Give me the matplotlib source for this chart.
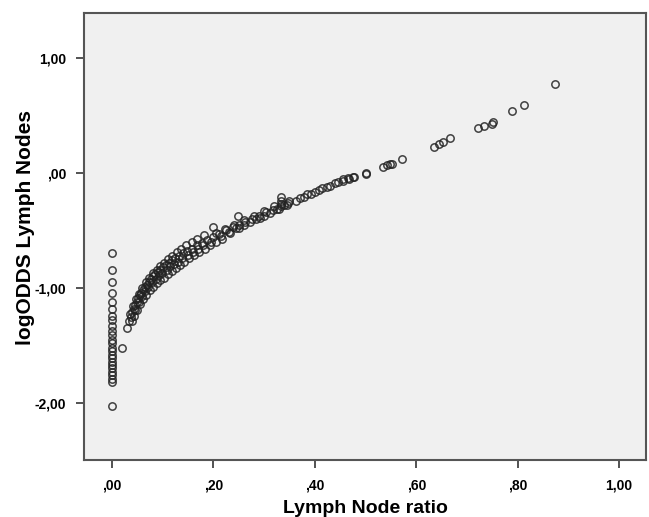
# -*- coding: utf-8 -*-

import numpy as np
import matplotlib
matplotlib.use('Agg')
import matplotlib.pyplot as plt
from matplotlib.ticker import FuncFormatter

# ratio 0 : logODDS values
zero_x = [0.0] * 25
zero_y = [-0.70, -0.84, -0.95, -1.04, -1.12, -1.18, -1.24, -1.28, -1.33,
          -1.37, -1.41, -1.45, -1.48, -1.52, -1.55, -1.58, -1.61, -1.64,
          -1.67, -1.70, -1.73, -1.76, -1.79, -1.82, -2.03]

# main band of the curve
mid_x = [0.030, 0.034, 0.037, 0.040, 0.043, 0.046, 0.049, 0.052, 0.055, 0.058,
         0.061, 0.065, 0.069, 0.073, 0.077, 0.081, 0.085, 0.090, 0.095, 0.100,
         0.106, 0.112, 0.118, 0.125, 0.132, 0.140, 0.148, 0.157, 0.167, 0.177,
         0.188, 0.200, 0.212, 0.225, 0.238, 0.250, 0.263, 0.276, 0.290, 0.304,
         0.318, 0.333, 0.348, 0.363, 0.378, 0.393, 0.409, 0.425, 0.440, 0.455,
         0.467, 0.478, 0.500, 0.500]
mid_y = [-1.35, -1.29, -1.25, -1.21, -1.18, -1.15, -1.12, -1.09, -1.06, -1.04,
         -1.02, -0.99, -0.97, -0.95, -0.92, -0.90, -0.88, -0.86, -0.84, -0.82,
         -0.80, -0.78, -0.76, -0.74, -0.72, -0.70, -0.68, -0.66, -0.63, -0.61,
         -0.58, -0.56, -0.53, -0.50, -0.47, -0.45, -0.43, -0.40, -0.37, -0.34,
         -0.32, -0.29, -0.26, -0.24, -0.21, -0.18, -0.15, -0.12, -0.09, -0.07,
         -0.05, -0.035, 0.00, -0.005]

# second row inside the band
mid2_x = [0.045, 0.053, 0.059, 0.066, 0.072, 0.079, 0.086, 0.093, 0.099, 0.108,
          0.115, 0.122, 0.130, 0.138, 0.150, 0.160, 0.170, 0.180, 0.195, 0.215,
          0.230, 0.245, 0.260, 0.285, 0.300, 0.325, 0.340]
mid2_y = [-1.19, -1.12, -1.07, -1.03, -0.99, -0.95, -0.92, -0.89, -0.87, -0.84,
          -0.81, -0.79, -0.77, -0.74, -0.71, -0.69, -0.66, -0.63, -0.60, -0.55,
          -0.51, -0.48, -0.45, -0.40, -0.37, -0.31, -0.28]

# upper edge of the band
up_x = [0.036, 0.042, 0.048, 0.054, 0.060, 0.067, 0.074, 0.081, 0.088, 0.095,
        0.103, 0.111, 0.119, 0.128, 0.137, 0.146, 0.157, 0.168, 0.182, 0.199,
        0.205, 0.222, 0.240, 0.249, 0.260, 0.280, 0.300, 0.333, 0.333, 0.333,
        0.320, 0.350, 0.370, 0.385, 0.400, 0.414, 0.430, 0.446, 0.456, 0.465,
        0.475]
up_y = [-1.23, -1.16, -1.10, -1.05, -1.00, -0.95, -0.91, -0.87, -0.84, -0.81,
        -0.78, -0.75, -0.72, -0.69, -0.66, -0.63, -0.60, -0.57, -0.54, -0.47,
        -0.52, -0.49, -0.45, -0.37, -0.41, -0.37, -0.33, -0.21, -0.24, -0.27,
        -0.29, -0.24, -0.22, -0.18, -0.165, -0.13, -0.11, -0.08, -0.05, -0.04,
        -0.035]

# lower edge of the band
low_x = [0.039, 0.044, 0.050, 0.056, 0.062, 0.068, 0.075, 0.081, 0.088, 0.095,
         0.102, 0.110, 0.118, 0.126, 0.134, 0.143, 0.152, 0.162, 0.172, 0.183,
         0.193, 0.205, 0.218, 0.233, 0.250, 0.272, 0.292, 0.312, 0.330, 0.345]
low_y = [-1.29, -1.24, -1.19, -1.14, -1.10, -1.06, -1.02, -0.99, -0.96, -0.93,
         -0.91, -0.88, -0.85, -0.83, -0.80, -0.77, -0.74, -0.71, -0.69, -0.66,
         -0.63, -0.60, -0.57, -0.52, -0.48, -0.43, -0.39, -0.35, -0.31, -0.28]

# sparse tail above 0.5
tail_x = [0.535, 0.542, 0.548, 0.553, 0.572, 0.635, 0.645, 0.653, 0.667,
          0.722, 0.734, 0.750, 0.752, 0.789, 0.813, 0.874]
tail_y = [0.05, 0.065, 0.075, 0.08, 0.12, 0.23, 0.25, 0.27, 0.30,
          0.39, 0.41, 0.43, 0.44, 0.54, 0.59, 0.77]

# outliers
extra_x = [0.020]
extra_y = [-1.52]

x = np.array(zero_x + mid_x + mid2_x + up_x + low_x + tail_x + extra_x)
y = np.array(zero_y + mid_y + mid2_y + up_y + low_y + tail_y + extra_y)

xticks = [0.0, 0.2, 0.4, 0.6, 0.8, 1.0]
yticks = [-2.0, -1.0, 0.0, 1.0]


def spss_fmt(v, pos):
    s = '%.2f' % v
    s = s.replace('.', ',')
    if s.startswith('0,'):
        s = s[1:]
    elif s.startswith('-0,'):
        s = '-' + s[2:]
    return s


plt.rcParams['font.family'] = ['Liberation Sans', 'DejaVu Sans']

fig = plt.figure(figsize=(6.49, 5.17), dpi=100)
ax = fig.add_axes([84/649, 57/517, 562/649, 447/517])
ax.set_facecolor('#f0f0f0')

ax.plot(x, y, 'o', markersize=5.3, markerfacecolor='none',
        markeredgecolor='#222222', markeredgewidth=1.1, alpha=0.85)

ax.set_xlim(-0.055, 1.053)
ax.set_ylim(-2.496, 1.391)
ax.set_xticks(xticks)
ax.set_yticks(yticks)
ax.xaxis.set_major_formatter(FuncFormatter(spss_fmt))
ax.yaxis.set_major_formatter(FuncFormatter(spss_fmt))

for s in ax.spines.values():
    s.set_color('#555555')
    s.set_linewidth(1.5)

ax.tick_params(direction='out', length=6, width=1.3, color='#444444',
               labelsize=10, pad=7)
for lab in ax.get_xticklabels() + ax.get_yticklabels():
    lab.set_fontweight('bold')

ax.set_xlabel('Lymph Node ratio', fontsize=14, fontweight='bold', labelpad=6)
ax.set_ylabel('logODDS Lymph Nodes', fontsize=15, fontweight='bold')
ax.yaxis.set_label_coords(-0.088, 0.52)

fig.savefig('out.png', dpi=100)
